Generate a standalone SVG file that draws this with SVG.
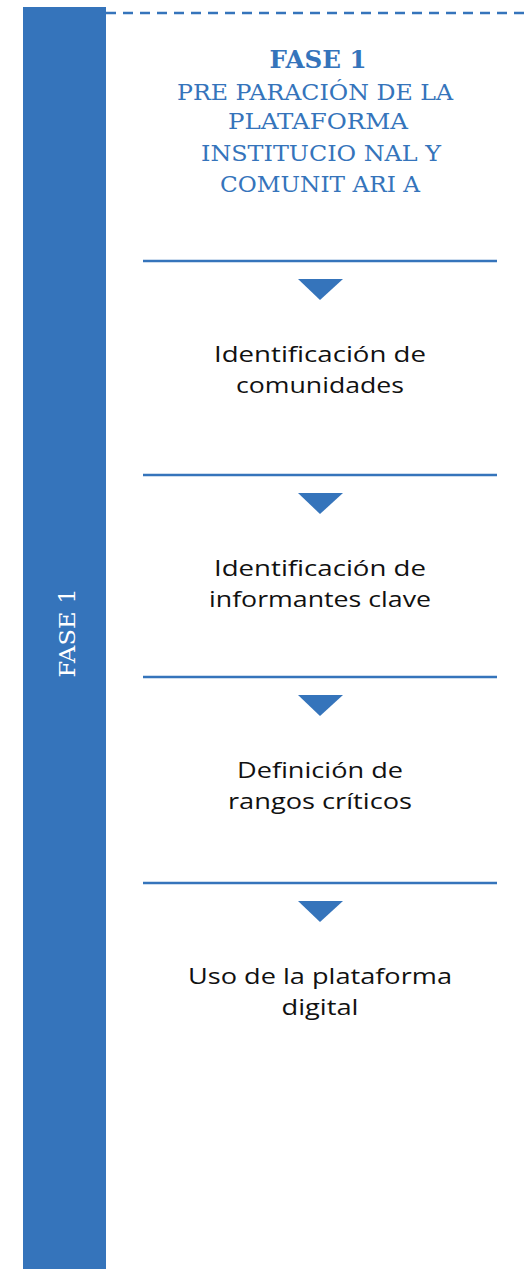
<svg xmlns="http://www.w3.org/2000/svg" width="529" height="1269" viewBox="0 0 529 1269">
<style>
.t{font-family:"DejaVu Serif","Liberation Serif",serif;fill:#3574BB;text-anchor:middle}
.b{font-family:"Open Sans","Noto Sans",sans-serif;font-size:22px;fill:#111;text-anchor:middle}
.sep{stroke:#3574BB;stroke-width:2.5}
.tri{fill:#3574BB}
</style>
<rect width="529" height="1269" fill="#fff"/>
<g id="sidebar">
<rect x="23" y="7" width="83" height="1262" fill="#3574BB"/>
<text transform="translate(75,633) rotate(-90)" font-family="DejaVu Serif, Liberation Serif, serif" font-size="22" fill="#fff" text-anchor="middle" textLength="89" lengthAdjust="spacingAndGlyphs">FASE 1</text>
</g>
<g id="connectors">
<line x1="106" y1="13" x2="529" y2="13" stroke="#3574BB" stroke-width="2.5" stroke-dasharray="10 7"/>
<line class="sep" x1="143" y1="261" x2="497" y2="261"/>
<line class="sep" x1="143" y1="475" x2="497" y2="475"/>
<line class="sep" x1="143" y1="677" x2="497" y2="677"/>
<line class="sep" x1="143" y1="883" x2="497" y2="883"/>
<polygon class="tri" points="298,279 343,279 320,300"/>
<polygon class="tri" points="298,493 343,493 320,514"/>
<polygon class="tri" points="298,695 343,695 320,716"/>
<polygon class="tri" points="298,901 343,901 320,922"/>
</g>
<g id="title">
<text class="t" x="318" y="68" font-size="24" font-weight="bold" textLength="97" lengthAdjust="spacingAndGlyphs">FASE 1</text>
<text class="t" x="315" y="100" font-size="23" textLength="276" lengthAdjust="spacingAndGlyphs">PRE PARACIÓN DE LA</text>
<text class="t" x="318" y="129" font-size="23" textLength="180" lengthAdjust="spacingAndGlyphs">PLATAFORMA</text>
<text class="t" x="321" y="161" font-size="23" textLength="240" lengthAdjust="spacingAndGlyphs">INSTITUCIO NAL Y</text>
<text class="t" x="320" y="192" font-size="23" textLength="200" lengthAdjust="spacingAndGlyphs">COMUNIT ARI A</text>
</g>
<g id="step1">
<text class="b" x="320" y="362" textLength="212" lengthAdjust="spacingAndGlyphs">Identificación de</text>
<text class="b" x="320" y="393" textLength="168" lengthAdjust="spacingAndGlyphs">comunidades</text>
</g>
<g id="step2">
<text class="b" x="320" y="576" textLength="212" lengthAdjust="spacingAndGlyphs">Identificación de</text>
<text class="b" x="320" y="607" textLength="222" lengthAdjust="spacingAndGlyphs">informantes clave</text>
</g>
<g id="step3">
<text class="b" x="320" y="778" textLength="166" lengthAdjust="spacingAndGlyphs">Definición de</text>
<text class="b" x="320" y="809" textLength="184" lengthAdjust="spacingAndGlyphs">rangos críticos</text>
</g>
<g id="step4">
<text class="b" x="320" y="984" textLength="264" lengthAdjust="spacingAndGlyphs">Uso de la plataforma</text>
<text class="b" x="320" y="1015" textLength="77" lengthAdjust="spacingAndGlyphs">digital</text>
</g>
</svg>
